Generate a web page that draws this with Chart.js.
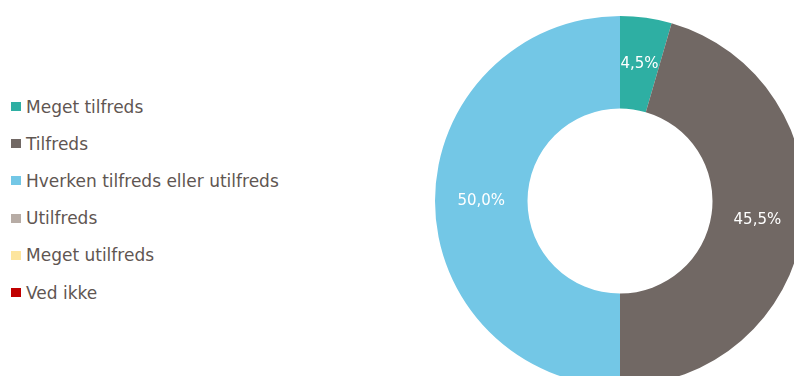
<!DOCTYPE html>
<html>
<head>
<meta charset="utf-8">
<script src="https://cdn.jsdelivr.net/npm/chart.js@4"></script>
<style>
  html, body { margin: 0; padding: 0; background: #fff; overflow: hidden; }
  body { width: 794px; height: 376px; position: relative; font-family: "DejaVu Sans", sans-serif; }
  #legend { position: absolute; left: 11px; top: 88px; }
  .item { height: 37.2px; display: flex; align-items: center; color: #5f5652; font-size: 17px; }
  .box { width: 10px; height: 9px; margin-right: 5px; }
  #wrap { position: absolute; left: 435px; top: 16px; width: 370px; height: 370px; }
</style>
</head>
<body>
<div id="legend"></div>
<div id="wrap"><canvas id="c"></canvas></div>
<script>
// svarfordeling
const categories = ['Meget tilfreds', 'Tilfreds', 'Hverken tilfreds eller utilfreds', 'Utilfreds', 'Meget utilfreds', 'Ved ikke'];
const values = [4.5, 45.5, 50.0, 0, 0, 0];
const colors = ['#2eafa3', '#716864', '#73c7e6', '#b7aca5', '#fde59e', '#c00000'];

const legend = document.getElementById('legend');
categories.forEach((c, i) => {
  const row = document.createElement('div');
  row.className = 'item';
  row.innerHTML = '<span class="box" style="background:' + colors[i] + '"></span>' + c;
  legend.appendChild(row);
});

const sliceLabels = {
  id: 'sliceLabels',
  afterDatasetsDraw(chart) {
    const ctx = chart.ctx;
    const meta = chart.getDatasetMeta(0);
    ctx.save();
    ctx.fillStyle = '#fff';
    ctx.font = '15px "DejaVu Sans", sans-serif';
    ctx.textAlign = 'center';
    ctx.textBaseline = 'middle';
    meta.data.forEach((arc, i) => {
      const v = values[i];
      if (!v) return;
      const p = arc.tooltipPosition();
      ctx.fillText(v.toFixed(1).replace('.', ',') + '%', p.x, p.y);
    });
    ctx.restore();
  }
};

new Chart(document.getElementById('c'), {
  type: 'doughnut',
  data: {
    labels: categories,
    datasets: [{
      data: values,
      backgroundColor: colors,
      borderWidth: 0
    }]
  },
  options: {
    responsive: true,
    maintainAspectRatio: false,
    animation: false,
    cutout: '50%',
    layout: { padding: 0 },
    plugins: {
      legend: { display: false },
      tooltip: { enabled: false }
    }
  },
  plugins: [sliceLabels]
});
</script>
</body>
</html>
